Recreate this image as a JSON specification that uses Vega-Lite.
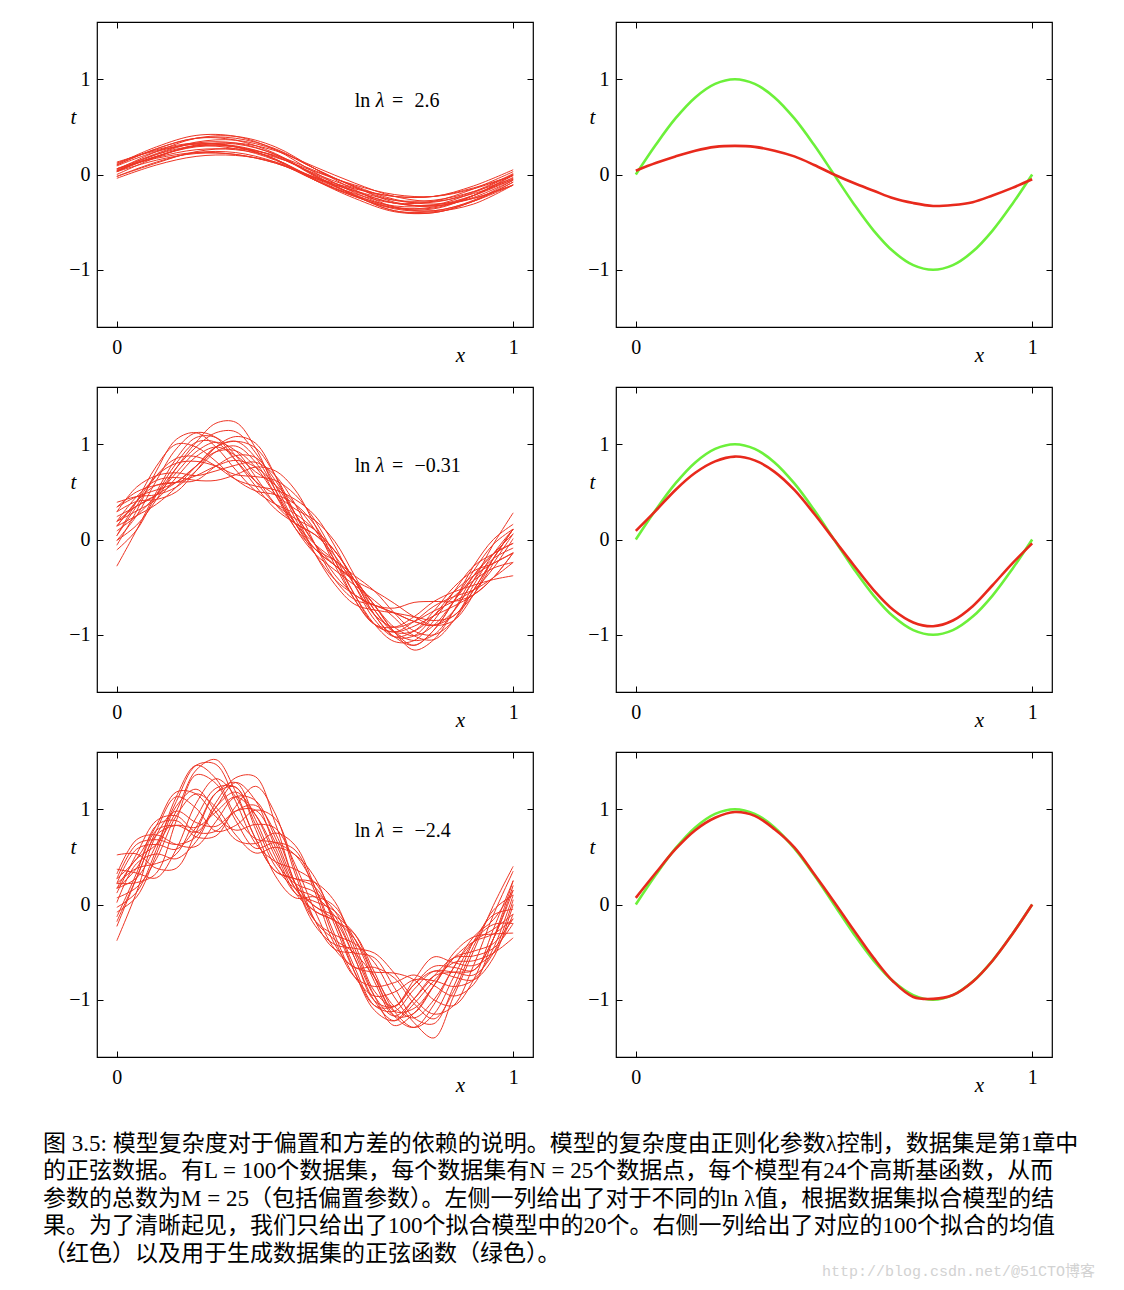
{
"$schema":"https://vega.github.io/schema/vega-lite/v6.json",
"background":"white",
"padding":{"left":43,"top":20,"right":5,"bottom":5},
"config":{
 "view":{"stroke":"#000","strokeWidth":1.2},
 "axis":{"domain":false,"grid":false,"ticks":true,"tickSize":-6,"tickColor":"#000","tickWidth":1,"labelFont":"Liberation Serif","labelFontSize":20,"labelColor":"#000","labelFlush":false,"labelOverlap":false,"titleFont":"Liberation Serif","titleFontSize":21,"titleFontStyle":"italic","titleFontWeight":"normal","titleColor":"#000","format":"d"}
},
"datasets":{
"L1":[
{"c":1,"x":0,"t":0.04},{"c":1,"x":0.1,"t":0.19},{"c":1,"x":0.2,"t":0.29},{"c":1,"x":0.3,"t":0.29},{"c":1,"x":0.4,"t":0.19},{"c":1,"x":0.5,"t":0.0},{"c":1,"x":0.6,"t":-0.17},{"c":1,"x":0.7,"t":-0.30},{"c":1,"x":0.8,"t":-0.32},{"c":1,"x":0.9,"t":-0.22},{"c":1,"x":1,"t":-0.05},
{"c":2,"x":0,"t":0.10},{"c":2,"x":0.1,"t":0.27},{"c":2,"x":0.2,"t":0.38},{"c":2,"x":0.3,"t":0.36},{"c":2,"x":0.4,"t":0.22},{"c":2,"x":0.5,"t":-0.01},{"c":2,"x":0.6,"t":-0.21},{"c":2,"x":0.7,"t":-0.35},{"c":2,"x":0.8,"t":-0.36},{"c":2,"x":0.9,"t":-0.22},{"c":2,"x":1,"t":-0.01},
{"c":3,"x":0,"t":0.03},{"c":3,"x":0.1,"t":0.15},{"c":3,"x":0.2,"t":0.22},{"c":3,"x":0.3,"t":0.21},{"c":3,"x":0.4,"t":0.12},{"c":3,"x":0.5,"t":-0.04},{"c":3,"x":0.6,"t":-0.17},{"c":3,"x":0.7,"t":-0.27},{"c":3,"x":0.8,"t":-0.27},{"c":3,"x":0.9,"t":-0.18},{"c":3,"x":1,"t":-0.04},
{"c":4,"x":0,"t":0.04},{"c":4,"x":0.1,"t":0.22},{"c":4,"x":0.2,"t":0.34},{"c":4,"x":0.3,"t":0.36},{"c":4,"x":0.4,"t":0.26},{"c":4,"x":0.5,"t":0.06},{"c":4,"x":0.6,"t":-0.13},{"c":4,"x":0.7,"t":-0.29},{"c":4,"x":0.8,"t":-0.33},{"c":4,"x":0.9,"t":-0.24},{"c":4,"x":1,"t":-0.06},
{"c":5,"x":0,"t":0.13},{"c":5,"x":0.1,"t":0.25},{"c":5,"x":0.2,"t":0.32},{"c":5,"x":0.3,"t":0.30},{"c":5,"x":0.4,"t":0.19},{"c":5,"x":0.5,"t":0.01},{"c":5,"x":0.6,"t":-0.14},{"c":5,"x":0.7,"t":-0.23},{"c":5,"x":0.8,"t":-0.23},{"c":5,"x":0.9,"t":-0.12},{"c":5,"x":1,"t":0.05},
{"c":6,"x":0,"t":0.03},{"c":6,"x":0.1,"t":0.21},{"c":6,"x":0.2,"t":0.33},{"c":6,"x":0.3,"t":0.33},{"c":6,"x":0.4,"t":0.21},{"c":6,"x":0.5,"t":-0.02},{"c":6,"x":0.6,"t":-0.22},{"c":6,"x":0.7,"t":-0.38},{"c":6,"x":0.8,"t":-0.40},{"c":6,"x":0.9,"t":-0.28},{"c":6,"x":1,"t":-0.08},
{"c":7,"x":0,"t":-0.04},{"c":7,"x":0.1,"t":0.10},{"c":7,"x":0.2,"t":0.19},{"c":7,"x":0.3,"t":0.20},{"c":7,"x":0.4,"t":0.13},{"c":7,"x":0.5,"t":-0.03},{"c":7,"x":0.6,"t":-0.18},{"c":7,"x":0.7,"t":-0.30},{"c":7,"x":0.8,"t":-0.33},{"c":7,"x":0.9,"t":-0.25},{"c":7,"x":1,"t":-0.11},
{"c":8,"x":0,"t":0.09},{"c":8,"x":0.1,"t":0.24},{"c":8,"x":0.2,"t":0.32},{"c":8,"x":0.3,"t":0.29},{"c":8,"x":0.4,"t":0.16},{"c":8,"x":0.5,"t":-0.05},{"c":8,"x":0.6,"t":-0.22},{"c":8,"x":0.7,"t":-0.33},{"c":8,"x":0.8,"t":-0.32},{"c":8,"x":0.9,"t":-0.19},{"c":8,"x":1,"t":0.0},
{"c":9,"x":0,"t":0.03},{"c":9,"x":0.1,"t":0.19},{"c":9,"x":0.2,"t":0.30},{"c":9,"x":0.3,"t":0.29},{"c":9,"x":0.4,"t":0.16},{"c":9,"x":0.5,"t":-0.06},{"c":9,"x":0.6,"t":-0.25},{"c":9,"x":0.7,"t":-0.39},{"c":9,"x":0.8,"t":-0.40},{"c":9,"x":0.9,"t":-0.28},{"c":9,"x":1,"t":-0.08},
{"c":10,"x":0,"t":0.04},{"c":10,"x":0.1,"t":0.19},{"c":10,"x":0.2,"t":0.30},{"c":10,"x":0.3,"t":0.33},{"c":10,"x":0.4,"t":0.25},{"c":10,"x":0.5,"t":0.08},{"c":10,"x":0.6,"t":-0.09},{"c":10,"x":0.7,"t":-0.23},{"c":10,"x":0.8,"t":-0.28},{"c":10,"x":0.9,"t":-0.20},{"c":10,"x":1,"t":-0.05},
{"c":11,"x":0,"t":0.11},{"c":11,"x":0.1,"t":0.29},{"c":11,"x":0.2,"t":0.41},{"c":11,"x":0.3,"t":0.40},{"c":11,"x":0.4,"t":0.26},{"c":11,"x":0.5,"t":0.02},{"c":11,"x":0.6,"t":-0.19},{"c":11,"x":0.7,"t":-0.34},{"c":11,"x":0.8,"t":-0.35},{"c":11,"x":0.9,"t":-0.22},{"c":11,"x":1,"t":0.0},
{"c":12,"x":0,"t":0.06},{"c":12,"x":0.1,"t":0.17},{"c":12,"x":0.2,"t":0.23},{"c":12,"x":0.3,"t":0.21},{"c":12,"x":0.4,"t":0.12},{"c":12,"x":0.5,"t":-0.03},{"c":12,"x":0.6,"t":-0.15},{"c":12,"x":0.7,"t":-0.23},{"c":12,"x":0.8,"t":-0.23},{"c":12,"x":0.9,"t":-0.14},{"c":12,"x":1,"t":-0.01},
{"c":13,"x":0,"t":-0.02},{"c":13,"x":0.1,"t":0.13},{"c":13,"x":0.2,"t":0.23},{"c":13,"x":0.3,"t":0.23},{"c":13,"x":0.4,"t":0.13},{"c":13,"x":0.5,"t":-0.06},{"c":13,"x":0.6,"t":-0.23},{"c":13,"x":0.7,"t":-0.36},{"c":13,"x":0.8,"t":-0.38},{"c":13,"x":0.9,"t":-0.28},{"c":13,"x":1,"t":-0.11},
{"c":14,"x":0,"t":0.10},{"c":14,"x":0.1,"t":0.27},{"c":14,"x":0.2,"t":0.38},{"c":14,"x":0.3,"t":0.38},{"c":14,"x":0.4,"t":0.27},{"c":14,"x":0.5,"t":0.06},{"c":14,"x":0.6,"t":-0.13},{"c":14,"x":0.7,"t":-0.27},{"c":14,"x":0.8,"t":-0.29},{"c":14,"x":0.9,"t":-0.18},{"c":14,"x":1,"t":0.01},
{"c":15,"x":0,"t":-0.02},{"c":15,"x":0.1,"t":0.12},{"c":15,"x":0.2,"t":0.24},{"c":15,"x":0.3,"t":0.27},{"c":15,"x":0.4,"t":0.20},{"c":15,"x":0.5,"t":0.04},{"c":15,"x":0.6,"t":-0.12},{"c":15,"x":0.7,"t":-0.26},{"c":15,"x":0.8,"t":-0.31},{"c":15,"x":0.9,"t":-0.25},{"c":15,"x":1,"t":-0.11},
{"c":16,"x":0,"t":0.0},{"c":16,"x":0.1,"t":0.18},{"c":16,"x":0.2,"t":0.31},{"c":16,"x":0.3,"t":0.32},{"c":16,"x":0.4,"t":0.21},{"c":16,"x":0.5,"t":-0.01},{"c":16,"x":0.6,"t":-0.22},{"c":16,"x":0.7,"t":-0.38},{"c":16,"x":0.8,"t":-0.39},{"c":16,"x":0.9,"t":-0.31},{"c":16,"x":1,"t":-0.11},
{"c":17,"x":0,"t":0.12},{"c":17,"x":0.1,"t":0.26},{"c":17,"x":0.2,"t":0.33},{"c":17,"x":0.3,"t":0.29},{"c":17,"x":0.4,"t":0.16},{"c":17,"x":0.5,"t":-0.04},{"c":17,"x":0.6,"t":-0.20},{"c":17,"x":0.7,"t":-0.30},{"c":17,"x":0.8,"t":-0.28},{"c":17,"x":0.9,"t":-0.15},{"c":17,"x":1,"t":0.03},
{"c":18,"x":0,"t":0.05},{"c":18,"x":0.1,"t":0.24},{"c":18,"x":0.2,"t":0.38},{"c":18,"x":0.3,"t":0.40},{"c":18,"x":0.4,"t":0.29},{"c":18,"x":0.5,"t":0.06},{"c":18,"x":0.6,"t":-0.16},{"c":18,"x":0.7,"t":-0.34},{"c":18,"x":0.8,"t":-0.38},{"c":18,"x":0.9,"t":-0.27},{"c":18,"x":1,"t":-0.06},
{"c":19,"x":0,"t":0.06},{"c":19,"x":0.1,"t":0.18},{"c":19,"x":0.2,"t":0.26},{"c":19,"x":0.3,"t":0.26},{"c":19,"x":0.4,"t":0.18},{"c":19,"x":0.5,"t":0.03},{"c":19,"x":0.6,"t":-0.11},{"c":19,"x":0.7,"t":-0.21},{"c":19,"x":0.8,"t":-0.23},{"c":19,"x":0.9,"t":-0.15},{"c":19,"x":1,"t":-0.01},
{"c":20,"x":0,"t":0.06},{"c":20,"x":0.1,"t":0.21},{"c":20,"x":0.2,"t":0.30},{"c":20,"x":0.3,"t":0.27},{"c":20,"x":0.4,"t":0.15},{"c":20,"x":0.5,"t":-0.06},{"c":20,"x":0.6,"t":-0.23},{"c":20,"x":0.7,"t":-0.35},{"c":20,"x":0.8,"t":-0.34},{"c":20,"x":0.9,"t":-0.22},{"c":20,"x":1,"t":-0.03}
],
"L2":[
{"c":1,"x":0,"t":0.19},{"c":1,"x":0.05,"t":0.35},{"c":1,"x":0.1,"t":0.47},{"c":1,"x":0.15,"t":0.60},{"c":1,"x":0.2,"t":0.77},{"c":1,"x":0.25,"t":0.92},{"c":1,"x":0.3,"t":0.93},{"c":1,"x":0.35,"t":0.76},{"c":1,"x":0.4,"t":0.47},{"c":1,"x":0.45,"t":0.17},{"c":1,"x":0.5,"t":-0.05},{"c":1,"x":0.55,"t":-0.22},{"c":1,"x":0.6,"t":-0.43},{"c":1,"x":0.65,"t":-0.69},{"c":1,"x":0.7,"t":-0.92},{"c":1,"x":0.75,"t":-1.01},{"c":1,"x":0.8,"t":-0.90},{"c":1,"x":0.85,"t":-0.65},{"c":1,"x":0.9,"t":-0.38},{"c":1,"x":0.95,"t":-0.15},{"c":1,"x":1,"t":0.06},
{"c":2,"x":0,"t":-0.28},{"c":2,"x":0.05,"t":0.10},{"c":2,"x":0.1,"t":0.50},{"c":2,"x":0.15,"t":0.85},{"c":2,"x":0.2,"t":1.07},{"c":2,"x":0.25,"t":1.07},{"c":2,"x":0.3,"t":0.88},{"c":2,"x":0.35,"t":0.61},{"c":2,"x":0.4,"t":0.37},{"c":2,"x":0.45,"t":0.22},{"c":2,"x":0.5,"t":0.10},{"c":2,"x":0.55,"t":-0.12},{"c":2,"x":0.6,"t":-0.43},{"c":2,"x":0.65,"t":-0.79},{"c":2,"x":0.7,"t":-1.02},{"c":2,"x":0.75,"t":-1.01},{"c":2,"x":0.8,"t":-0.80},{"c":2,"x":0.85,"t":-0.55},{"c":2,"x":0.9,"t":-0.38},{"c":2,"x":0.95,"t":-0.25},{"c":2,"x":1,"t":-0.14},
{"c":3,"x":0,"t":0.29},{"c":3,"x":0.05,"t":0.40},{"c":3,"x":0.1,"t":0.42},{"c":3,"x":0.15,"t":0.50},{"c":3,"x":0.2,"t":0.72},{"c":3,"x":0.25,"t":0.97},{"c":3,"x":0.3,"t":1.08},{"c":3,"x":0.35,"t":1.01},{"c":3,"x":0.4,"t":0.67},{"c":3,"x":0.45,"t":0.22},{"c":3,"x":0.5,"t":-0.10},{"c":3,"x":0.55,"t":-0.27},{"c":3,"x":0.6,"t":-0.43},{"c":3,"x":0.65,"t":-0.69},{"c":3,"x":0.7,"t":-0.97},{"c":3,"x":0.75,"t":-1.11},{"c":3,"x":0.8,"t":-0.95},{"c":3,"x":0.85,"t":-0.65},{"c":3,"x":0.9,"t":-0.33},{"c":3,"x":0.95,"t":-0.05},{"c":3,"x":1,"t":0.11},
{"c":4,"x":0,"t":0.14},{"c":4,"x":0.05,"t":0.40},{"c":4,"x":0.1,"t":0.67},{"c":4,"x":0.15,"t":0.80},{"c":4,"x":0.2,"t":0.82},{"c":4,"x":0.25,"t":0.77},{"c":4,"x":0.3,"t":0.68},{"c":4,"x":0.35,"t":0.66},{"c":4,"x":0.4,"t":0.62},{"c":4,"x":0.45,"t":0.47},{"c":4,"x":0.5,"t":0.20},{"c":4,"x":0.55,"t":-0.17},{"c":4,"x":0.6,"t":-0.58},{"c":4,"x":0.65,"t":-0.89},{"c":4,"x":0.7,"t":-0.97},{"c":4,"x":0.75,"t":-0.86},{"c":4,"x":0.8,"t":-0.70},{"c":4,"x":0.85,"t":-0.60},{"c":4,"x":0.9,"t":-0.53},{"c":4,"x":0.95,"t":-0.40},{"c":4,"x":1,"t":-0.24},
{"c":5,"x":0,"t":-0.01},{"c":5,"x":0.05,"t":0.25},{"c":5,"x":0.1,"t":0.62},{"c":5,"x":0.15,"t":0.95},{"c":5,"x":0.2,"t":1.12},{"c":5,"x":0.25,"t":1.07},{"c":5,"x":0.3,"t":0.83},{"c":5,"x":0.35,"t":0.56},{"c":5,"x":0.4,"t":0.32},{"c":5,"x":0.45,"t":0.17},{"c":5,"x":0.5,"t":0.05},{"c":5,"x":0.55,"t":-0.17},{"c":5,"x":0.6,"t":-0.48},{"c":5,"x":0.65,"t":-0.79},{"c":5,"x":0.7,"t":-0.92},{"c":5,"x":0.75,"t":-0.86},{"c":5,"x":0.8,"t":-0.75},{"c":5,"x":0.85,"t":-0.65},{"c":5,"x":0.9,"t":-0.53},{"c":5,"x":0.95,"t":-0.30},{"c":5,"x":1,"t":0.01},
{"c":6,"x":0,"t":0.39},{"c":6,"x":0.05,"t":0.45},{"c":6,"x":0.1,"t":0.47},{"c":6,"x":0.15,"t":0.55},{"c":6,"x":0.2,"t":0.72},{"c":6,"x":0.25,"t":0.92},{"c":6,"x":0.3,"t":0.98},{"c":6,"x":0.35,"t":0.81},{"c":6,"x":0.4,"t":0.47},{"c":6,"x":0.45,"t":0.12},{"c":6,"x":0.5,"t":-0.10},{"c":6,"x":0.55,"t":-0.22},{"c":6,"x":0.6,"t":-0.38},{"c":6,"x":0.65,"t":-0.54},{"c":6,"x":0.7,"t":-0.77},{"c":6,"x":0.75,"t":-0.96},{"c":6,"x":0.8,"t":-1.00},{"c":6,"x":0.85,"t":-0.85},{"c":6,"x":0.9,"t":-0.53},{"c":6,"x":0.95,"t":-0.20},{"c":6,"x":1,"t":0.11},
{"c":7,"x":0,"t":0.09},{"c":7,"x":0.05,"t":0.25},{"c":7,"x":0.1,"t":0.47},{"c":7,"x":0.15,"t":0.75},{"c":7,"x":0.2,"t":0.97},{"c":7,"x":0.25,"t":1.12},{"c":7,"x":0.3,"t":1.13},{"c":7,"x":0.35,"t":0.91},{"c":7,"x":0.4,"t":0.57},{"c":7,"x":0.45,"t":0.17},{"c":7,"x":0.5,"t":-0.15},{"c":7,"x":0.55,"t":-0.42},{"c":7,"x":0.6,"t":-0.58},{"c":7,"x":0.65,"t":-0.69},{"c":7,"x":0.7,"t":-0.77},{"c":7,"x":0.75,"t":-0.86},{"c":7,"x":0.8,"t":-0.90},{"c":7,"x":0.85,"t":-0.80},{"c":7,"x":0.9,"t":-0.58},{"c":7,"x":0.95,"t":-0.25},{"c":7,"x":1,"t":0.06},
{"c":8,"x":0,"t":0.19},{"c":8,"x":0.05,"t":0.45},{"c":8,"x":0.1,"t":0.62},{"c":8,"x":0.15,"t":0.65},{"c":8,"x":0.2,"t":0.62},{"c":8,"x":0.25,"t":0.62},{"c":8,"x":0.3,"t":0.68},{"c":8,"x":0.35,"t":0.76},{"c":8,"x":0.4,"t":0.72},{"c":8,"x":0.45,"t":0.52},{"c":8,"x":0.5,"t":0.15},{"c":8,"x":0.55,"t":-0.27},{"c":8,"x":0.6,"t":-0.63},{"c":8,"x":0.65,"t":-0.89},{"c":8,"x":0.7,"t":-0.97},{"c":8,"x":0.75,"t":-0.91},{"c":8,"x":0.8,"t":-0.80},{"c":8,"x":0.85,"t":-0.70},{"c":8,"x":0.9,"t":-0.58},{"c":8,"x":0.95,"t":-0.40},{"c":8,"x":1,"t":-0.14},
{"c":9,"x":0,"t":-0.06},{"c":9,"x":0.05,"t":0.30},{"c":9,"x":0.1,"t":0.72},{"c":9,"x":0.15,"t":1.05},{"c":9,"x":0.2,"t":1.12},{"c":9,"x":0.25,"t":0.97},{"c":9,"x":0.3,"t":0.73},{"c":9,"x":0.35,"t":0.51},{"c":9,"x":0.4,"t":0.37},{"c":9,"x":0.45,"t":0.27},{"c":9,"x":0.5,"t":0.10},{"c":9,"x":0.55,"t":-0.12},{"c":9,"x":0.6,"t":-0.43},{"c":9,"x":0.65,"t":-0.74},{"c":9,"x":0.7,"t":-0.97},{"c":9,"x":0.75,"t":-1.06},{"c":9,"x":0.8,"t":-1.00},{"c":9,"x":0.85,"t":-0.75},{"c":9,"x":0.9,"t":-0.43},{"c":9,"x":0.95,"t":-0.05},{"c":9,"x":1,"t":0.28},
{"c":10,"x":0,"t":0.34},{"c":10,"x":0.05,"t":0.50},{"c":10,"x":0.1,"t":0.57},{"c":10,"x":0.15,"t":0.60},{"c":10,"x":0.2,"t":0.67},{"c":10,"x":0.25,"t":0.77},{"c":10,"x":0.3,"t":0.83},{"c":10,"x":0.35,"t":0.76},{"c":10,"x":0.4,"t":0.57},{"c":10,"x":0.45,"t":0.27},{"c":10,"x":0.5,"t":-0.05},{"c":10,"x":0.55,"t":-0.37},{"c":10,"x":0.6,"t":-0.58},{"c":10,"x":0.65,"t":-0.69},{"c":10,"x":0.7,"t":-0.72},{"c":10,"x":0.75,"t":-0.66},{"c":10,"x":0.8,"t":-0.65},{"c":10,"x":0.85,"t":-0.65},{"c":10,"x":0.9,"t":-0.58},{"c":10,"x":0.95,"t":-0.40},{"c":10,"x":1,"t":-0.14},
{"c":11,"x":0,"t":0.14},{"c":11,"x":0.05,"t":0.25},{"c":11,"x":0.1,"t":0.37},{"c":11,"x":0.15,"t":0.55},{"c":11,"x":0.2,"t":0.77},{"c":11,"x":0.25,"t":0.97},{"c":11,"x":0.3,"t":1.03},{"c":11,"x":0.35,"t":0.96},{"c":11,"x":0.4,"t":0.67},{"c":11,"x":0.45,"t":0.27},{"c":11,"x":0.5,"t":-0.15},{"c":11,"x":0.55,"t":-0.47},{"c":11,"x":0.6,"t":-0.68},{"c":11,"x":0.65,"t":-0.74},{"c":11,"x":0.7,"t":-0.77},{"c":11,"x":0.75,"t":-0.81},{"c":11,"x":0.8,"t":-0.85},{"c":11,"x":0.85,"t":-0.80},{"c":11,"x":0.9,"t":-0.53},{"c":11,"x":0.95,"t":-0.20},{"c":11,"x":1,"t":0.11},
{"c":12,"x":0,"t":0.24},{"c":12,"x":0.05,"t":0.35},{"c":12,"x":0.1,"t":0.47},{"c":12,"x":0.15,"t":0.70},{"c":12,"x":0.2,"t":0.92},{"c":12,"x":0.25,"t":1.02},{"c":12,"x":0.3,"t":0.93},{"c":12,"x":0.35,"t":0.66},{"c":12,"x":0.4,"t":0.37},{"c":12,"x":0.45,"t":0.17},{"c":12,"x":0.5,"t":0.05},{"c":12,"x":0.55,"t":-0.12},{"c":12,"x":0.6,"t":-0.43},{"c":12,"x":0.65,"t":-0.79},{"c":12,"x":0.7,"t":-1.02},{"c":12,"x":0.75,"t":-1.11},{"c":12,"x":0.8,"t":-0.95},{"c":12,"x":0.85,"t":-0.65},{"c":12,"x":0.9,"t":-0.28},{"c":12,"x":0.95,"t":0.0},{"c":12,"x":1,"t":0.16},
{"c":13,"x":0,"t":0.04},{"c":13,"x":0.05,"t":0.35},{"c":13,"x":0.1,"t":0.67},{"c":13,"x":0.15,"t":0.85},{"c":13,"x":0.2,"t":0.87},{"c":13,"x":0.25,"t":0.77},{"c":13,"x":0.3,"t":0.63},{"c":13,"x":0.35,"t":0.56},{"c":13,"x":0.4,"t":0.52},{"c":13,"x":0.45,"t":0.42},{"c":13,"x":0.5,"t":0.25},{"c":13,"x":0.55,"t":-0.07},{"c":13,"x":0.6,"t":-0.48},{"c":13,"x":0.65,"t":-0.84},{"c":13,"x":0.7,"t":-1.02},{"c":13,"x":0.75,"t":-0.96},{"c":13,"x":0.8,"t":-0.75},{"c":13,"x":0.85,"t":-0.50},{"c":13,"x":0.9,"t":-0.33},{"c":13,"x":0.95,"t":-0.25},{"c":13,"x":1,"t":-0.14},
{"c":14,"x":0,"t":0.29},{"c":14,"x":0.05,"t":0.55},{"c":14,"x":0.1,"t":0.67},{"c":14,"x":0.15,"t":0.70},{"c":14,"x":0.2,"t":0.67},{"c":14,"x":0.25,"t":0.72},{"c":14,"x":0.3,"t":0.78},{"c":14,"x":0.35,"t":0.81},{"c":14,"x":0.4,"t":0.67},{"c":14,"x":0.45,"t":0.37},{"c":14,"x":0.5,"t":-0.05},{"c":14,"x":0.55,"t":-0.42},{"c":14,"x":0.6,"t":-0.63},{"c":14,"x":0.65,"t":-0.69},{"c":14,"x":0.7,"t":-0.77},{"c":14,"x":0.75,"t":-0.86},{"c":14,"x":0.8,"t":-0.90},{"c":14,"x":0.85,"t":-0.75},{"c":14,"x":0.9,"t":-0.43},{"c":14,"x":0.95,"t":-0.20},{"c":14,"x":1,"t":-0.09},
{"c":15,"x":0,"t":-0.01},{"c":15,"x":0.05,"t":0.15},{"c":15,"x":0.1,"t":0.42},{"c":15,"x":0.15,"t":0.75},{"c":15,"x":0.2,"t":1.02},{"c":15,"x":0.25,"t":1.22},{"c":15,"x":0.3,"t":1.23},{"c":15,"x":0.35,"t":0.96},{"c":15,"x":0.4,"t":0.52},{"c":15,"x":0.45,"t":0.12},{"c":15,"x":0.5,"t":-0.15},{"c":15,"x":0.55,"t":-0.32},{"c":15,"x":0.6,"t":-0.48},{"c":15,"x":0.65,"t":-0.64},{"c":15,"x":0.7,"t":-0.82},{"c":15,"x":0.75,"t":-1.01},{"c":15,"x":0.8,"t":-1.05},{"c":15,"x":0.85,"t":-0.85},{"c":15,"x":0.9,"t":-0.48},{"c":15,"x":0.95,"t":-0.15},{"c":15,"x":1,"t":0.11},
{"c":16,"x":0,"t":0.19},{"c":16,"x":0.05,"t":0.30},{"c":16,"x":0.1,"t":0.42},{"c":16,"x":0.15,"t":0.65},{"c":16,"x":0.2,"t":0.87},{"c":16,"x":0.25,"t":0.97},{"c":16,"x":0.3,"t":0.88},{"c":16,"x":0.35,"t":0.71},{"c":16,"x":0.4,"t":0.57},{"c":16,"x":0.45,"t":0.37},{"c":16,"x":0.5,"t":0.10},{"c":16,"x":0.55,"t":-0.22},{"c":16,"x":0.6,"t":-0.58},{"c":16,"x":0.65,"t":-0.89},{"c":16,"x":0.7,"t":-1.07},{"c":16,"x":0.75,"t":-1.06},{"c":16,"x":0.8,"t":-0.85},{"c":16,"x":0.85,"t":-0.55},{"c":16,"x":0.9,"t":-0.28},{"c":16,"x":0.95,"t":-0.15},{"c":16,"x":1,"t":-0.04},
{"c":17,"x":0,"t":0.04},{"c":17,"x":0.05,"t":0.40},{"c":17,"x":0.1,"t":0.77},{"c":17,"x":0.15,"t":1.00},{"c":17,"x":0.2,"t":0.97},{"c":17,"x":0.25,"t":0.82},{"c":17,"x":0.3,"t":0.63},{"c":17,"x":0.35,"t":0.51},{"c":17,"x":0.4,"t":0.47},{"c":17,"x":0.45,"t":0.37},{"c":17,"x":0.5,"t":0.15},{"c":17,"x":0.55,"t":-0.22},{"c":17,"x":0.6,"t":-0.63},{"c":17,"x":0.65,"t":-0.89},{"c":17,"x":0.7,"t":-0.92},{"c":17,"x":0.75,"t":-0.81},{"c":17,"x":0.8,"t":-0.65},{"c":17,"x":0.85,"t":-0.55},{"c":17,"x":0.9,"t":-0.48},{"c":17,"x":0.95,"t":-0.42},{"c":17,"x":1,"t":-0.38},
{"c":18,"x":0,"t":0.14},{"c":18,"x":0.05,"t":0.40},{"c":18,"x":0.1,"t":0.57},{"c":18,"x":0.15,"t":0.60},{"c":18,"x":0.2,"t":0.62},{"c":18,"x":0.25,"t":0.77},{"c":18,"x":0.3,"t":0.88},{"c":18,"x":0.35,"t":0.86},{"c":18,"x":0.4,"t":0.62},{"c":18,"x":0.45,"t":0.27},{"c":18,"x":0.5,"t":-0.05},{"c":18,"x":0.55,"t":-0.27},{"c":18,"x":0.6,"t":-0.43},{"c":18,"x":0.65,"t":-0.54},{"c":18,"x":0.7,"t":-0.67},{"c":18,"x":0.75,"t":-0.81},{"c":18,"x":0.8,"t":-0.90},{"c":18,"x":0.85,"t":-0.85},{"c":18,"x":0.9,"t":-0.58},{"c":18,"x":0.95,"t":-0.20},{"c":18,"x":1,"t":0.11},
{"c":19,"x":0,"t":0.34},{"c":19,"x":0.05,"t":0.45},{"c":19,"x":0.1,"t":0.52},{"c":19,"x":0.15,"t":0.60},{"c":19,"x":0.2,"t":0.77},{"c":19,"x":0.25,"t":0.97},{"c":19,"x":0.3,"t":1.03},{"c":19,"x":0.35,"t":0.86},{"c":19,"x":0.4,"t":0.52},{"c":19,"x":0.45,"t":0.17},{"c":19,"x":0.5,"t":-0.10},{"c":19,"x":0.55,"t":-0.27},{"c":19,"x":0.6,"t":-0.43},{"c":19,"x":0.65,"t":-0.69},{"c":19,"x":0.7,"t":-0.97},{"c":19,"x":0.75,"t":-1.16},{"c":19,"x":0.8,"t":-1.05},{"c":19,"x":0.85,"t":-0.75},{"c":19,"x":0.9,"t":-0.38},{"c":19,"x":0.95,"t":-0.15},{"c":19,"x":1,"t":-0.04},
{"c":20,"x":0,"t":-0.11},{"c":20,"x":0.05,"t":0.10},{"c":20,"x":0.1,"t":0.47},{"c":20,"x":0.15,"t":0.80},{"c":20,"x":0.2,"t":1.02},{"c":20,"x":0.25,"t":1.02},{"c":20,"x":0.3,"t":0.83},{"c":20,"x":0.35,"t":0.61},{"c":20,"x":0.4,"t":0.47},{"c":20,"x":0.45,"t":0.32},{"c":20,"x":0.5,"t":0.20},{"c":20,"x":0.55,"t":-0.02},{"c":20,"x":0.6,"t":-0.38},{"c":20,"x":0.65,"t":-0.74},{"c":20,"x":0.7,"t":-0.97},{"c":20,"x":0.75,"t":-0.96},{"c":20,"x":0.8,"t":-0.80},{"c":20,"x":0.85,"t":-0.60},{"c":20,"x":0.9,"t":-0.43},{"c":20,"x":0.95,"t":-0.30},{"c":20,"x":1,"t":-0.24}
],
"L3":[
{"c":1,"x":0,"t":0.22},{"c":1,"x":0.05,"t":0.23},{"c":1,"x":0.1,"t":0.33},{"c":1,"x":0.15,"t":0.88},{"c":1,"x":0.2,"t":1.36},{"c":1,"x":0.25,"t":1.27},{"c":1,"x":0.3,"t":0.88},{"c":1,"x":0.35,"t":0.59},{"c":1,"x":0.4,"t":0.65},{"c":1,"x":0.45,"t":0.57},{"c":1,"x":0.5,"t":0.13},{"c":1,"x":0.55,"t":-0.42},{"c":1,"x":0.6,"t":-0.66},{"c":1,"x":0.65,"t":-0.66},{"c":1,"x":0.7,"t":-0.77},{"c":1,"x":0.75,"t":-1.04},{"c":1,"x":0.8,"t":-1.20},{"c":1,"x":0.85,"t":-0.91},{"c":1,"x":0.9,"t":-0.44},{"c":1,"x":0.95,"t":-0.06},{"c":1,"x":1,"t":0.10},
{"c":2,"x":0,"t":-0.23},{"c":2,"x":0.05,"t":0.28},{"c":2,"x":0.1,"t":0.78},{"c":2,"x":0.15,"t":1.13},{"c":2,"x":0.2,"t":1.01},{"c":2,"x":0.25,"t":0.77},{"c":2,"x":0.3,"t":0.83},{"c":2,"x":0.35,"t":0.99},{"c":2,"x":0.4,"t":0.90},{"c":2,"x":0.45,"t":0.37},{"c":2,"x":0.5,"t":-0.17},{"c":2,"x":0.55,"t":-0.47},{"c":2,"x":0.6,"t":-0.51},{"c":2,"x":0.65,"t":-0.56},{"c":2,"x":0.7,"t":-0.87},{"c":2,"x":0.75,"t":-1.19},{"c":2,"x":0.8,"t":-1.25},{"c":2,"x":0.85,"t":-0.86},{"c":2,"x":0.9,"t":-0.39},{"c":2,"x":0.95,"t":-0.11},{"c":2,"x":1,"t":-0.05},
{"c":3,"x":0,"t":0.52},{"c":3,"x":0.05,"t":0.53},{"c":3,"x":0.1,"t":0.38},{"c":3,"x":0.15,"t":0.38},{"c":3,"x":0.2,"t":0.76},{"c":3,"x":0.25,"t":1.17},{"c":3,"x":0.3,"t":1.28},{"c":3,"x":0.35,"t":0.89},{"c":3,"x":0.4,"t":0.45},{"c":3,"x":0.45,"t":0.22},{"c":3,"x":0.5,"t":0.13},{"c":3,"x":0.55,"t":-0.07},{"c":3,"x":0.6,"t":-0.51},{"c":3,"x":0.65,"t":-0.96},{"c":3,"x":0.7,"t":-1.17},{"c":3,"x":0.75,"t":-0.99},{"c":3,"x":0.8,"t":-0.75},{"c":3,"x":0.85,"t":-0.56},{"c":3,"x":0.9,"t":-0.54},{"c":3,"x":0.95,"t":-0.46},{"c":3,"x":1,"t":-0.20},
{"c":4,"x":0,"t":0.17},{"c":4,"x":0.05,"t":0.48},{"c":4,"x":0.1,"t":0.63},{"c":4,"x":0.15,"t":0.98},{"c":4,"x":0.2,"t":1.41},{"c":4,"x":0.25,"t":1.52},{"c":4,"x":0.3,"t":1.18},{"c":4,"x":0.35,"t":0.69},{"c":4,"x":0.4,"t":0.35},{"c":4,"x":0.45,"t":0.27},{"c":4,"x":0.5,"t":0.18},{"c":4,"x":0.55,"t":-0.17},{"c":4,"x":0.6,"t":-0.66},{"c":4,"x":0.65,"t":-1.06},{"c":4,"x":0.7,"t":-1.12},{"c":4,"x":0.75,"t":-0.89},{"c":4,"x":0.8,"t":-0.70},{"c":4,"x":0.85,"t":-0.71},{"c":4,"x":0.9,"t":-0.74},{"c":4,"x":0.95,"t":-0.51},{"c":4,"x":1,"t":0.05},
{"c":5,"x":0,"t":-0.08},{"c":5,"x":0.05,"t":0.08},{"c":5,"x":0.1,"t":0.53},{"c":5,"x":0.15,"t":1.03},{"c":5,"x":0.2,"t":1.21},{"c":5,"x":0.25,"t":0.97},{"c":5,"x":0.3,"t":0.68},{"c":5,"x":0.35,"t":0.64},{"c":5,"x":0.4,"t":0.75},{"c":5,"x":0.45,"t":0.62},{"c":5,"x":0.5,"t":0.18},{"c":5,"x":0.55,"t":-0.37},{"c":5,"x":0.6,"t":-0.76},{"c":5,"x":0.65,"t":-0.86},{"c":5,"x":0.7,"t":-0.82},{"c":5,"x":0.75,"t":-0.74},{"c":5,"x":0.8,"t":-0.85},{"c":5,"x":0.85,"t":-0.96},{"c":5,"x":0.9,"t":-0.84},{"c":5,"x":0.95,"t":-0.36},{"c":5,"x":1,"t":0.25},
{"c":6,"x":0,"t":0.27},{"c":6,"x":0.05,"t":0.63},{"c":6,"x":0.1,"t":0.68},{"c":6,"x":0.15,"t":0.63},{"c":6,"x":0.2,"t":0.71},{"c":6,"x":0.25,"t":1.07},{"c":6,"x":0.3,"t":1.33},{"c":6,"x":0.35,"t":1.34},{"c":6,"x":0.4,"t":0.85},{"c":6,"x":0.45,"t":0.22},{"c":6,"x":0.5,"t":-0.17},{"c":6,"x":0.55,"t":-0.32},{"c":6,"x":0.6,"t":-0.41},{"c":6,"x":0.65,"t":-0.61},{"c":6,"x":0.7,"t":-0.97},{"c":6,"x":0.75,"t":-1.24},{"c":6,"x":0.8,"t":-1.40},{"c":6,"x":0.85,"t":-0.96},{"c":6,"x":0.9,"t":-0.49},{"c":6,"x":0.95,"t":-0.01},{"c":6,"x":1,"t":0.40},
{"c":7,"x":0,"t":-0.38},{"c":7,"x":0.05,"t":0.13},{"c":7,"x":0.1,"t":0.73},{"c":7,"x":0.15,"t":0.98},{"c":7,"x":0.2,"t":0.86},{"c":7,"x":0.25,"t":0.82},{"c":7,"x":0.3,"t":0.98},{"c":7,"x":0.35,"t":0.99},{"c":7,"x":0.4,"t":0.65},{"c":7,"x":0.45,"t":0.17},{"c":7,"x":0.5,"t":-0.07},{"c":7,"x":0.55,"t":-0.17},{"c":7,"x":0.6,"t":-0.31},{"c":7,"x":0.65,"t":-0.71},{"c":7,"x":0.7,"t":-1.12},{"c":7,"x":0.75,"t":-1.29},{"c":7,"x":0.8,"t":-1.15},{"c":7,"x":0.85,"t":-0.76},{"c":7,"x":0.9,"t":-0.39},{"c":7,"x":0.95,"t":-0.21},{"c":7,"x":1,"t":-0.20},
{"c":8,"x":0,"t":0.37},{"c":8,"x":0.05,"t":0.33},{"c":8,"x":0.1,"t":0.28},{"c":8,"x":0.15,"t":0.58},{"c":8,"x":0.2,"t":1.06},{"c":8,"x":0.25,"t":1.32},{"c":8,"x":0.3,"t":1.13},{"c":8,"x":0.35,"t":0.69},{"c":8,"x":0.4,"t":0.35},{"c":8,"x":0.45,"t":0.27},{"c":8,"x":0.5,"t":0.23},{"c":8,"x":0.55,"t":0.03},{"c":8,"x":0.6,"t":-0.46},{"c":8,"x":0.65,"t":-0.96},{"c":8,"x":0.7,"t":-1.27},{"c":8,"x":0.75,"t":-1.14},{"c":8,"x":0.8,"t":-0.85},{"c":8,"x":0.85,"t":-0.56},{"c":8,"x":0.9,"t":-0.39},{"c":8,"x":0.95,"t":-0.31},{"c":8,"x":1,"t":-0.15},
{"c":9,"x":0,"t":0.12},{"c":9,"x":0.05,"t":0.53},{"c":9,"x":0.1,"t":0.88},{"c":9,"x":0.15,"t":0.93},{"c":9,"x":0.2,"t":0.76},{"c":9,"x":0.25,"t":0.77},{"c":9,"x":0.3,"t":0.98},{"c":9,"x":0.35,"t":1.04},{"c":9,"x":0.4,"t":0.75},{"c":9,"x":0.45,"t":0.22},{"c":9,"x":0.5,"t":-0.22},{"c":9,"x":0.55,"t":-0.42},{"c":9,"x":0.6,"t":-0.46},{"c":9,"x":0.65,"t":-0.51},{"c":9,"x":0.7,"t":-0.72},{"c":9,"x":0.75,"t":-0.99},{"c":9,"x":0.8,"t":-1.15},{"c":9,"x":0.85,"t":-1.06},{"c":9,"x":0.9,"t":-0.64},{"c":9,"x":0.95,"t":-0.11},{"c":9,"x":1,"t":0.35},
{"c":10,"x":0,"t":-0.03},{"c":10,"x":0.05,"t":0.13},{"c":10,"x":0.1,"t":0.58},{"c":10,"x":0.15,"t":1.13},{"c":10,"x":0.2,"t":1.46},{"c":10,"x":0.25,"t":1.32},{"c":10,"x":0.3,"t":0.93},{"c":10,"x":0.35,"t":0.69},{"c":10,"x":0.4,"t":0.65},{"c":10,"x":0.45,"t":0.52},{"c":10,"x":0.5,"t":0.18},{"c":10,"x":0.55,"t":-0.32},{"c":10,"x":0.6,"t":-0.76},{"c":10,"x":0.65,"t":-0.96},{"c":10,"x":0.7,"t":-0.92},{"c":10,"x":0.75,"t":-0.79},{"c":10,"x":0.8,"t":-0.80},{"c":10,"x":0.85,"t":-0.86},{"c":10,"x":0.9,"t":-0.79},{"c":10,"x":0.95,"t":-0.46},{"c":10,"x":1,"t":0.10},
{"c":11,"x":0,"t":0.22},{"c":11,"x":0.05,"t":0.38},{"c":11,"x":0.1,"t":0.43},{"c":11,"x":0.15,"t":0.53},{"c":11,"x":0.2,"t":0.91},{"c":11,"x":0.25,"t":1.22},{"c":11,"x":0.3,"t":1.23},{"c":11,"x":0.35,"t":0.84},{"c":11,"x":0.4,"t":0.40},{"c":11,"x":0.45,"t":0.17},{"c":11,"x":0.5,"t":0.08},{"c":11,"x":0.55,"t":-0.12},{"c":11,"x":0.6,"t":-0.56},{"c":11,"x":0.65,"t":-1.01},{"c":11,"x":0.7,"t":-1.22},{"c":11,"x":0.75,"t":-1.04},{"c":11,"x":0.8,"t":-0.80},{"c":11,"x":0.85,"t":-0.61},{"c":11,"x":0.9,"t":-0.59},{"c":11,"x":0.95,"t":-0.51},{"c":11,"x":1,"t":-0.35},
{"c":12,"x":0,"t":0.32},{"c":12,"x":0.05,"t":0.68},{"c":12,"x":0.1,"t":0.73},{"c":12,"x":0.15,"t":0.63},{"c":12,"x":0.2,"t":0.61},{"c":12,"x":0.25,"t":0.87},{"c":12,"x":0.3,"t":1.13},{"c":12,"x":0.35,"t":1.09},{"c":12,"x":0.4,"t":0.70},{"c":12,"x":0.45,"t":0.22},{"c":12,"x":0.5,"t":-0.02},{"c":12,"x":0.55,"t":-0.12},{"c":12,"x":0.6,"t":-0.31},{"c":12,"x":0.65,"t":-0.76},{"c":12,"x":0.7,"t":-1.17},{"c":12,"x":0.75,"t":-1.29},{"c":12,"x":0.8,"t":-1.05},{"c":12,"x":0.85,"t":-0.66},{"c":12,"x":0.9,"t":-0.39},{"c":12,"x":0.95,"t":-0.26},{"c":12,"x":1,"t":-0.10},
{"c":13,"x":0,"t":-0.13},{"c":13,"x":0.05,"t":0.33},{"c":13,"x":0.1,"t":0.83},{"c":13,"x":0.15,"t":0.88},{"c":13,"x":0.2,"t":0.71},{"c":13,"x":0.25,"t":0.72},{"c":13,"x":0.3,"t":1.03},{"c":13,"x":0.35,"t":1.24},{"c":13,"x":0.4,"t":0.95},{"c":13,"x":0.45,"t":0.32},{"c":13,"x":0.5,"t":-0.17},{"c":13,"x":0.55,"t":-0.37},{"c":13,"x":0.6,"t":-0.51},{"c":13,"x":0.65,"t":-0.76},{"c":13,"x":0.7,"t":-1.07},{"c":13,"x":0.75,"t":-1.19},{"c":13,"x":0.8,"t":-1.00},{"c":13,"x":0.85,"t":-0.66},{"c":13,"x":0.9,"t":-0.34},{"c":13,"x":0.95,"t":-0.16},{"c":13,"x":1,"t":0.15},
{"c":14,"x":0,"t":0.07},{"c":14,"x":0.05,"t":0.18},{"c":14,"x":0.1,"t":0.48},{"c":14,"x":0.15,"t":0.93},{"c":14,"x":0.2,"t":1.16},{"c":14,"x":0.25,"t":1.02},{"c":14,"x":0.3,"t":0.73},{"c":14,"x":0.35,"t":0.54},{"c":14,"x":0.4,"t":0.60},{"c":14,"x":0.45,"t":0.52},{"c":14,"x":0.5,"t":0.28},{"c":14,"x":0.55,"t":-0.22},{"c":14,"x":0.6,"t":-0.71},{"c":14,"x":0.65,"t":-1.06},{"c":14,"x":0.7,"t":-1.07},{"c":14,"x":0.75,"t":-0.84},{"c":14,"x":0.8,"t":-0.70},{"c":14,"x":0.85,"t":-0.76},{"c":14,"x":0.9,"t":-0.79},{"c":14,"x":0.95,"t":-0.56},{"c":14,"x":1,"t":0.0},
{"c":15,"x":0,"t":0.27},{"c":15,"x":0.05,"t":0.48},{"c":15,"x":0.1,"t":0.83},{"c":15,"x":0.15,"t":1.18},{"c":15,"x":0.2,"t":1.16},{"c":15,"x":0.25,"t":0.92},{"c":15,"x":0.3,"t":0.78},{"c":15,"x":0.35,"t":0.84},{"c":15,"x":0.4,"t":0.80},{"c":15,"x":0.45,"t":0.42},{"c":15,"x":0.5,"t":-0.07},{"c":15,"x":0.55,"t":-0.47},{"c":15,"x":0.6,"t":-0.66},{"c":15,"x":0.65,"t":-0.71},{"c":15,"x":0.7,"t":-0.72},{"c":15,"x":0.75,"t":-0.79},{"c":15,"x":0.8,"t":-1.00},{"c":15,"x":0.85,"t":-1.06},{"c":15,"x":0.9,"t":-0.79},{"c":15,"x":0.95,"t":-0.26},{"c":15,"x":1,"t":0.25},
{"c":16,"x":0,"t":0.02},{"c":16,"x":0.05,"t":0.43},{"c":16,"x":0.1,"t":0.53},{"c":16,"x":0.15,"t":0.48},{"c":16,"x":0.2,"t":0.66},{"c":16,"x":0.25,"t":1.02},{"c":16,"x":0.3,"t":1.18},{"c":16,"x":0.35,"t":0.94},{"c":16,"x":0.4,"t":0.50},{"c":16,"x":0.45,"t":0.12},{"c":16,"x":0.5,"t":0.03},{"c":16,"x":0.55,"t":-0.07},{"c":16,"x":0.6,"t":-0.36},{"c":16,"x":0.65,"t":-0.81},{"c":16,"x":0.7,"t":-1.17},{"c":16,"x":0.75,"t":-1.14},{"c":16,"x":0.8,"t":-0.85},{"c":16,"x":0.85,"t":-0.51},{"c":16,"x":0.9,"t":-0.34},{"c":16,"x":0.95,"t":-0.31},{"c":16,"x":1,"t":-0.30},
{"c":17,"x":0,"t":0.17},{"c":17,"x":0.05,"t":0.28},{"c":17,"x":0.1,"t":0.63},{"c":17,"x":0.15,"t":1.08},{"c":17,"x":0.2,"t":1.46},{"c":17,"x":0.25,"t":1.47},{"c":17,"x":0.3,"t":1.08},{"c":17,"x":0.35,"t":0.64},{"c":17,"x":0.4,"t":0.45},{"c":17,"x":0.45,"t":0.37},{"c":17,"x":0.5,"t":0.23},{"c":17,"x":0.55,"t":-0.17},{"c":17,"x":0.6,"t":-0.71},{"c":17,"x":0.65,"t":-1.11},{"c":17,"x":0.7,"t":-1.22},{"c":17,"x":0.75,"t":-0.99},{"c":17,"x":0.8,"t":-0.75},{"c":17,"x":0.85,"t":-0.71},{"c":17,"x":0.9,"t":-0.69},{"c":17,"x":0.95,"t":-0.36},{"c":17,"x":1,"t":0.15},
{"c":18,"x":0,"t":-0.18},{"c":18,"x":0.05,"t":0.28},{"c":18,"x":0.1,"t":0.73},{"c":18,"x":0.15,"t":0.83},{"c":18,"x":0.2,"t":0.81},{"c":18,"x":0.25,"t":0.97},{"c":18,"x":0.3,"t":1.13},{"c":18,"x":0.35,"t":0.94},{"c":18,"x":0.4,"t":0.55},{"c":18,"x":0.45,"t":0.12},{"c":18,"x":0.5,"t":-0.07},{"c":18,"x":0.55,"t":-0.17},{"c":18,"x":0.6,"t":-0.36},{"c":18,"x":0.65,"t":-0.76},{"c":18,"x":0.7,"t":-1.12},{"c":18,"x":0.75,"t":-1.09},{"c":18,"x":0.8,"t":-0.85},{"c":18,"x":0.85,"t":-0.56},{"c":18,"x":0.9,"t":-0.49},{"c":18,"x":0.95,"t":-0.41},{"c":18,"x":1,"t":-0.15},
{"c":19,"x":0,"t":0.22},{"c":19,"x":0.05,"t":0.58},{"c":19,"x":0.1,"t":0.63},{"c":19,"x":0.15,"t":0.58},{"c":19,"x":0.2,"t":0.81},{"c":19,"x":0.25,"t":1.17},{"c":19,"x":0.3,"t":1.23},{"c":19,"x":0.35,"t":0.79},{"c":19,"x":0.4,"t":0.30},{"c":19,"x":0.45,"t":0.07},{"c":19,"x":0.5,"t":0.08},{"c":19,"x":0.55,"t":-0.02},{"c":19,"x":0.6,"t":-0.41},{"c":19,"x":0.65,"t":-0.91},{"c":19,"x":0.7,"t":-1.07},{"c":19,"x":0.75,"t":-0.84},{"c":19,"x":0.8,"t":-0.65},{"c":19,"x":0.85,"t":-0.66},{"c":19,"x":0.9,"t":-0.69},{"c":19,"x":0.95,"t":-0.36},{"c":19,"x":1,"t":0.20},
{"c":20,"x":0,"t":0.17},{"c":20,"x":0.05,"t":0.38},{"c":20,"x":0.1,"t":0.78},{"c":20,"x":0.15,"t":0.83},{"c":20,"x":0.2,"t":0.76},{"c":20,"x":0.25,"t":1.02},{"c":20,"x":0.3,"t":1.28},{"c":20,"x":0.35,"t":1.09},{"c":20,"x":0.4,"t":0.60},{"c":20,"x":0.45,"t":0.17},{"c":20,"x":0.5,"t":-0.02},{"c":20,"x":0.55,"t":-0.17},{"c":20,"x":0.6,"t":-0.56},{"c":20,"x":0.65,"t":-1.01},{"c":20,"x":0.7,"t":-1.07},{"c":20,"x":0.75,"t":-0.79},{"c":20,"x":0.8,"t":-0.55},{"c":20,"x":0.85,"t":-0.61},{"c":20,"x":0.9,"t":-0.64},{"c":20,"x":0.95,"t":-0.51},{"c":20,"x":1,"t":-0.10}
],
"R":[
{"k":"g","x":0,"t":0},{"k":"g","x":0.05,"t":0.309},{"k":"g","x":0.1,"t":0.588},{"k":"g","x":0.15,"t":0.809},{"k":"g","x":0.2,"t":0.951},{"k":"g","x":0.25,"t":1},{"k":"g","x":0.3,"t":0.951},{"k":"g","x":0.35,"t":0.809},{"k":"g","x":0.4,"t":0.588},{"k":"g","x":0.45,"t":0.309},{"k":"g","x":0.5,"t":0},{"k":"g","x":0.55,"t":-0.309},{"k":"g","x":0.6,"t":-0.588},{"k":"g","x":0.65,"t":-0.809},{"k":"g","x":0.7,"t":-0.951},{"k":"g","x":0.75,"t":-1},{"k":"g","x":0.8,"t":-0.951},{"k":"g","x":0.85,"t":-0.809},{"k":"g","x":0.9,"t":-0.588},{"k":"g","x":0.95,"t":-0.309},{"k":"g","x":1,"t":0},
{"k":"m1","x":0,"t":0.04},{"k":"m1","x":0.05,"t":0.12},{"k":"m1","x":0.1,"t":0.19},{"k":"m1","x":0.15,"t":0.25},{"k":"m1","x":0.2,"t":0.29},{"k":"m1","x":0.25,"t":0.30},{"k":"m1","x":0.3,"t":0.29},{"k":"m1","x":0.35,"t":0.25},{"k":"m1","x":0.4,"t":0.19},{"k":"m1","x":0.45,"t":0.10},{"k":"m1","x":0.5,"t":0.0},{"k":"m1","x":0.55,"t":-0.09},{"k":"m1","x":0.6,"t":-0.17},{"k":"m1","x":0.65,"t":-0.25},{"k":"m1","x":0.7,"t":-0.30},{"k":"m1","x":0.75,"t":-0.33},{"k":"m1","x":0.8,"t":-0.32},{"k":"m1","x":0.85,"t":-0.29},{"k":"m1","x":0.9,"t":-0.22},{"k":"m1","x":0.95,"t":-0.14},{"k":"m1","x":1,"t":-0.05},
{"k":"m2","x":0,"t":0.09},{"k":"m2","x":0.05,"t":0.30},{"k":"m2","x":0.1,"t":0.52},{"k":"m2","x":0.15,"t":0.70},{"k":"m2","x":0.2,"t":0.82},{"k":"m2","x":0.25,"t":0.87},{"k":"m2","x":0.3,"t":0.83},{"k":"m2","x":0.35,"t":0.71},{"k":"m2","x":0.4,"t":0.52},{"k":"m2","x":0.45,"t":0.27},{"k":"m2","x":0.5,"t":0.0},{"k":"m2","x":0.55,"t":-0.27},{"k":"m2","x":0.6,"t":-0.53},{"k":"m2","x":0.65,"t":-0.74},{"k":"m2","x":0.7,"t":-0.87},{"k":"m2","x":0.75,"t":-0.91},{"k":"m2","x":0.8,"t":-0.85},{"k":"m2","x":0.85,"t":-0.70},{"k":"m2","x":0.9,"t":-0.48},{"k":"m2","x":0.95,"t":-0.25},{"k":"m2","x":1,"t":-0.04},
{"k":"m3","x":0,"t":0.07},{"k":"m3","x":0.05,"t":0.33},{"k":"m3","x":0.1,"t":0.58},{"k":"m3","x":0.15,"t":0.78},{"k":"m3","x":0.2,"t":0.91},{"k":"m3","x":0.25,"t":0.97},{"k":"m3","x":0.3,"t":0.93},{"k":"m3","x":0.35,"t":0.79},{"k":"m3","x":0.4,"t":0.60},{"k":"m3","x":0.45,"t":0.32},{"k":"m3","x":0.5,"t":0.03},{"k":"m3","x":0.55,"t":-0.27},{"k":"m3","x":0.6,"t":-0.56},{"k":"m3","x":0.65,"t":-0.81},{"k":"m3","x":0.7,"t":-0.97},{"k":"m3","x":0.75,"t":-0.99},{"k":"m3","x":0.8,"t":-0.95},{"k":"m3","x":0.85,"t":-0.81},{"k":"m3","x":0.9,"t":-0.59},{"k":"m3","x":0.95,"t":-0.31},{"k":"m3","x":1,"t":0.0}
]
},
"title":{"text":"http://blog.csdn.net/@51CTO博客","orient":"bottom","anchor":"start","frame":"group","dx":725,"offset":-2,"font":"Liberation Mono, Noto Sans CJK SC","fontSize":15,"fontWeight":"normal","color":"#d2d2d2","baseline":"top"},
"bounds":"flush",
"vconcat":[{
"columns":2,
"spacing":{"row":60,"column":83},
"bounds":"flush",
"title":{"text":["图 3.5: 模型复杂度对于偏置和方差的依赖的说明。模型的复杂度由正则化参数λ控制，数据集是第1章中","的正弦数据。有L = 100个数据集，每个数据集有N = 25个数据点，每个模型有24个高斯基函数，从而","参数的总数为M = 25（包括偏置参数）。左侧一列给出了对于不同的ln λ值，根据数据集拟合模型的结","果。为了清晰起见，我们只给出了100个拟合模型中的20个。右侧一列给出了对应的100个拟合的均值","（红色）以及用于生成数据集的正弦函数（绿色）。"],"orient":"bottom","anchor":"start","frame":"group","dx":-54,"offset":37,"font":"Liberation Serif, Noto Sans CJK SC","fontSize":23,"fontWeight":"normal","color":"#000","lineHeight":27.5,"align":"left","baseline":"top"},
"concat":[
{"width":436,"height":305,
 "layer":[
  {"data":{"name":"L1"},"mark":{"type":"line","interpolate":"catmull-rom","color":"#ee3524","strokeWidth":1},
   "encoding":{"x":{"field":"x","type":"quantitative","scale":{"domain":[-0.05,1.05],"nice":false,"zero":false},"axis":{"orient":"bottom","values":[0,1],"labelPadding":16,"title":"x","titleX":363,"titleY":28,"titleBaseline":"middle","titleAlign":"center"}},
    "y":{"field":"t","type":"quantitative","scale":{"domain":[-1.6,1.6],"nice":false,"zero":false},"axis":{"orient":"left","values":[-1,0,1],"labelPadding":13,"title":"t","titleX":-24,"titleY":95,"titleAngle":0,"titleBaseline":"middle","titleAlign":"center"}},
    "detail":{"field":"c","type":"nominal"}}},
  {"data":{"values":[{"x":0.6,"t":0.71,"s":"ln"},{"x":0.694,"t":0.71,"s":"="},{"x":0.751,"t":0.71,"s":"2.6"}]},"mark":{"type":"text","align":"left","baseline":"alphabetic","font":"Liberation Serif","fontSize":20,"color":"#000"},
   "encoding":{"x":{"field":"x","type":"quantitative","scale":{"domain":[-0.05,1.05],"nice":false,"zero":false},"axis":{"orient":"top","values":[0,1],"labels":false,"title":null}},
    "y":{"field":"t","type":"quantitative","scale":{"domain":[-1.6,1.6],"nice":false,"zero":false},"axis":{"orient":"right","values":[-1,0,1],"labels":false,"title":null}},
    "text":{"field":"s"}}},
  {"data":{"values":[{"x":0.653,"t":0.71,"s":"λ"}]},"mark":{"type":"text","align":"left","baseline":"alphabetic","font":"Liberation Serif","fontStyle":"italic","fontSize":20,"color":"#000"},
   "encoding":{"x":{"field":"x","type":"quantitative","scale":{"domain":[-0.05,1.05],"nice":false,"zero":false},"axis":null},
    "y":{"field":"t","type":"quantitative","scale":{"domain":[-1.6,1.6],"nice":false,"zero":false},"axis":null},
    "text":{"field":"s"}}}
 ],
 "resolve":{"axis":{"x":"independent","y":"independent"}}},
{"width":436,"height":305,
 "layer":[
  {"data":{"name":"R"},"transform":[{"filter":"datum.k=='g'"}],"mark":{"type":"line","interpolate":"catmull-rom","color":"#6cf03a","strokeWidth":2.6},
   "encoding":{"x":{"field":"x","type":"quantitative","scale":{"domain":[-0.05,1.05],"nice":false,"zero":false},"axis":{"orient":"bottom","values":[0,1],"labelPadding":16,"title":"x","titleX":363,"titleY":28,"titleBaseline":"middle","titleAlign":"center"}},
    "y":{"field":"t","type":"quantitative","scale":{"domain":[-1.6,1.6],"nice":false,"zero":false},"axis":{"orient":"left","values":[-1,0,1],"labelPadding":13,"title":"t","titleX":-24,"titleY":95,"titleAngle":0,"titleBaseline":"middle","titleAlign":"center"}}}},
  {"data":{"name":"R"},"transform":[{"filter":"datum.k=='m1'"}],"mark":{"type":"line","interpolate":"catmull-rom","color":"#e8291c","strokeWidth":2.6},
   "encoding":{"x":{"field":"x","type":"quantitative","scale":{"domain":[-0.05,1.05],"nice":false,"zero":false},"axis":{"orient":"top","values":[0,1],"labels":false,"title":null}},
    "y":{"field":"t","type":"quantitative","scale":{"domain":[-1.6,1.6],"nice":false,"zero":false},"axis":{"orient":"right","values":[-1,0,1],"labels":false,"title":null}}}}
 ],
 "resolve":{"axis":{"x":"independent","y":"independent"}}},
{"width":436,"height":305,
 "layer":[
  {"data":{"name":"L2"},"mark":{"type":"line","interpolate":"catmull-rom","color":"#ee3524","strokeWidth":1},
   "encoding":{"x":{"field":"x","type":"quantitative","scale":{"domain":[-0.05,1.05],"nice":false,"zero":false},"axis":{"orient":"bottom","values":[0,1],"labelPadding":16,"title":"x","titleX":363,"titleY":28,"titleBaseline":"middle","titleAlign":"center"}},
    "y":{"field":"t","type":"quantitative","scale":{"domain":[-1.6,1.6],"nice":false,"zero":false},"axis":{"orient":"left","values":[-1,0,1],"labelPadding":13,"title":"t","titleX":-24,"titleY":95,"titleAngle":0,"titleBaseline":"middle","titleAlign":"center"}},
    "detail":{"field":"c","type":"nominal"}}},
  {"data":{"values":[{"x":0.6,"t":0.71,"s":"ln"},{"x":0.694,"t":0.71,"s":"="},{"x":0.751,"t":0.71,"s":"−0.31"}]},"mark":{"type":"text","align":"left","baseline":"alphabetic","font":"Liberation Serif","fontSize":20,"color":"#000"},
   "encoding":{"x":{"field":"x","type":"quantitative","scale":{"domain":[-0.05,1.05],"nice":false,"zero":false},"axis":{"orient":"top","values":[0,1],"labels":false,"title":null}},
    "y":{"field":"t","type":"quantitative","scale":{"domain":[-1.6,1.6],"nice":false,"zero":false},"axis":{"orient":"right","values":[-1,0,1],"labels":false,"title":null}},
    "text":{"field":"s"}}},
  {"data":{"values":[{"x":0.653,"t":0.71,"s":"λ"}]},"mark":{"type":"text","align":"left","baseline":"alphabetic","font":"Liberation Serif","fontStyle":"italic","fontSize":20,"color":"#000"},
   "encoding":{"x":{"field":"x","type":"quantitative","scale":{"domain":[-0.05,1.05],"nice":false,"zero":false},"axis":null},
    "y":{"field":"t","type":"quantitative","scale":{"domain":[-1.6,1.6],"nice":false,"zero":false},"axis":null},
    "text":{"field":"s"}}}
 ],
 "resolve":{"axis":{"x":"independent","y":"independent"}}},
{"width":436,"height":305,
 "layer":[
  {"data":{"name":"R"},"transform":[{"filter":"datum.k=='g'"}],"mark":{"type":"line","interpolate":"catmull-rom","color":"#6cf03a","strokeWidth":2.6},
   "encoding":{"x":{"field":"x","type":"quantitative","scale":{"domain":[-0.05,1.05],"nice":false,"zero":false},"axis":{"orient":"bottom","values":[0,1],"labelPadding":16,"title":"x","titleX":363,"titleY":28,"titleBaseline":"middle","titleAlign":"center"}},
    "y":{"field":"t","type":"quantitative","scale":{"domain":[-1.6,1.6],"nice":false,"zero":false},"axis":{"orient":"left","values":[-1,0,1],"labelPadding":13,"title":"t","titleX":-24,"titleY":95,"titleAngle":0,"titleBaseline":"middle","titleAlign":"center"}}}},
  {"data":{"name":"R"},"transform":[{"filter":"datum.k=='m2'"}],"mark":{"type":"line","interpolate":"catmull-rom","color":"#e8291c","strokeWidth":2.6},
   "encoding":{"x":{"field":"x","type":"quantitative","scale":{"domain":[-0.05,1.05],"nice":false,"zero":false},"axis":{"orient":"top","values":[0,1],"labels":false,"title":null}},
    "y":{"field":"t","type":"quantitative","scale":{"domain":[-1.6,1.6],"nice":false,"zero":false},"axis":{"orient":"right","values":[-1,0,1],"labels":false,"title":null}}}}
 ],
 "resolve":{"axis":{"x":"independent","y":"independent"}}},
{"width":436,"height":305,
 "layer":[
  {"data":{"name":"L3"},"mark":{"type":"line","interpolate":"catmull-rom","color":"#ee3524","strokeWidth":1},
   "encoding":{"x":{"field":"x","type":"quantitative","scale":{"domain":[-0.05,1.05],"nice":false,"zero":false},"axis":{"orient":"bottom","values":[0,1],"labelPadding":16,"title":"x","titleX":363,"titleY":28,"titleBaseline":"middle","titleAlign":"center"}},
    "y":{"field":"t","type":"quantitative","scale":{"domain":[-1.6,1.6],"nice":false,"zero":false},"axis":{"orient":"left","values":[-1,0,1],"labelPadding":13,"title":"t","titleX":-24,"titleY":95,"titleAngle":0,"titleBaseline":"middle","titleAlign":"center"}},
    "detail":{"field":"c","type":"nominal"}}},
  {"data":{"values":[{"x":0.6,"t":0.71,"s":"ln"},{"x":0.694,"t":0.71,"s":"="},{"x":0.751,"t":0.71,"s":"−2.4"}]},"mark":{"type":"text","align":"left","baseline":"alphabetic","font":"Liberation Serif","fontSize":20,"color":"#000"},
   "encoding":{"x":{"field":"x","type":"quantitative","scale":{"domain":[-0.05,1.05],"nice":false,"zero":false},"axis":{"orient":"top","values":[0,1],"labels":false,"title":null}},
    "y":{"field":"t","type":"quantitative","scale":{"domain":[-1.6,1.6],"nice":false,"zero":false},"axis":{"orient":"right","values":[-1,0,1],"labels":false,"title":null}},
    "text":{"field":"s"}}},
  {"data":{"values":[{"x":0.653,"t":0.71,"s":"λ"}]},"mark":{"type":"text","align":"left","baseline":"alphabetic","font":"Liberation Serif","fontStyle":"italic","fontSize":20,"color":"#000"},
   "encoding":{"x":{"field":"x","type":"quantitative","scale":{"domain":[-0.05,1.05],"nice":false,"zero":false},"axis":null},
    "y":{"field":"t","type":"quantitative","scale":{"domain":[-1.6,1.6],"nice":false,"zero":false},"axis":null},
    "text":{"field":"s"}}}
 ],
 "resolve":{"axis":{"x":"independent","y":"independent"}}},
{"width":436,"height":305,
 "layer":[
  {"data":{"name":"R"},"transform":[{"filter":"datum.k=='g'"}],"mark":{"type":"line","interpolate":"catmull-rom","color":"#6cf03a","strokeWidth":2.6},
   "encoding":{"x":{"field":"x","type":"quantitative","scale":{"domain":[-0.05,1.05],"nice":false,"zero":false},"axis":{"orient":"bottom","values":[0,1],"labelPadding":16,"title":"x","titleX":363,"titleY":28,"titleBaseline":"middle","titleAlign":"center"}},
    "y":{"field":"t","type":"quantitative","scale":{"domain":[-1.6,1.6],"nice":false,"zero":false},"axis":{"orient":"left","values":[-1,0,1],"labelPadding":13,"title":"t","titleX":-24,"titleY":95,"titleAngle":0,"titleBaseline":"middle","titleAlign":"center"}}}},
  {"data":{"name":"R"},"transform":[{"filter":"datum.k=='m3'"}],"mark":{"type":"line","interpolate":"catmull-rom","color":"#e8291c","strokeWidth":2.6},
   "encoding":{"x":{"field":"x","type":"quantitative","scale":{"domain":[-0.05,1.05],"nice":false,"zero":false},"axis":{"orient":"top","values":[0,1],"labels":false,"title":null}},
    "y":{"field":"t","type":"quantitative","scale":{"domain":[-1.6,1.6],"nice":false,"zero":false},"axis":{"orient":"right","values":[-1,0,1],"labels":false,"title":null}}}}
 ],
 "resolve":{"axis":{"x":"independent","y":"independent"}}}
]
}]
}
